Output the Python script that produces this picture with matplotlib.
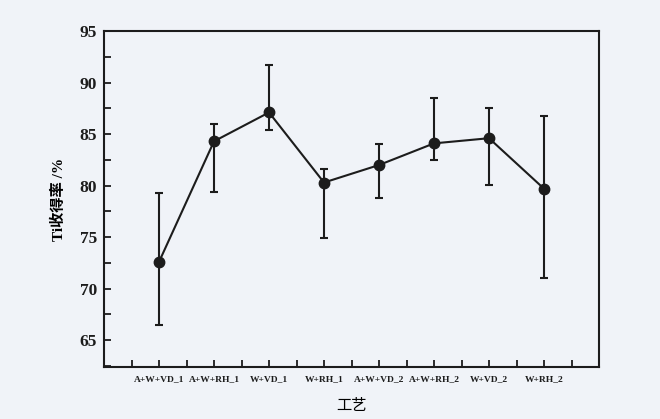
import matplotlib.pyplot as plt
from matplotlib.ticker import MultipleLocator

processes = ['A+W+VD_1', 'A+W+RH_1', 'W+VD_1', 'W+RH_1',
             'A+W+VD_2', 'A+W+RH_2', 'W+VD_2', 'W+RH_2']
ti_yield = [72.6, 84.3, 87.1, 80.3, 82.0, 84.1, 84.6, 79.7]
err_upper = [79.3, 86.0, 91.7, 81.6, 84.0, 88.5, 87.5, 86.8]
err_lower = [66.5, 79.4, 85.4, 74.9, 78.8, 82.5, 80.1, 71.0]

bg = '#f0f3f8'
ink = '#1c1c1c'
fonts = ['Liberation Serif', 'Noto Sans CJK SC']

fig = plt.figure(figsize=(6.6, 4.19), dpi=100, facecolor=bg)
ax = fig.add_axes([0.1576, 0.124, 0.75, 0.802])
ax.set_facecolor(bg)

x = list(range(1, len(processes) + 1))
yerr = [[v - lo for v, lo in zip(ti_yield, err_lower)],
        [hi - v for v, hi in zip(ti_yield, err_upper)]]
ax.errorbar(x, ti_yield, yerr=yerr, color=ink, linewidth=1.5, marker='o',
            markersize=7.5, elinewidth=1.5, capsize=2.6, capthick=1.5)

ax.set_xlim(0, 9)
ax.set_ylim(62.4, 95)
ax.set_xticks(x)
ax.set_xticklabels(processes, fontsize=6.8, fontweight='bold', family=fonts)
ax.xaxis.set_minor_locator(MultipleLocator(0.5))
ax.yaxis.set_major_locator(MultipleLocator(5))
ax.yaxis.set_minor_locator(MultipleLocator(2.5))
for lab in ax.get_yticklabels():
    lab.set_fontsize(12.5)
    lab.set_fontweight('bold')
    lab.set_family(fonts)
ax.tick_params(which='both', direction='in', length=5, width=1.3, colors=ink,
               top=False, right=False)
ax.tick_params(axis='y', pad=5)
ax.tick_params(axis='x', pad=6)
for s in ax.spines.values():
    s.set_linewidth(1.5)
    s.set_color(ink)

ax.set_ylabel('Ti收得率 /%', fontsize=11, fontweight='bold', family=fonts, labelpad=10)
ax.set_xlabel('工艺', fontsize=11, family=fonts, labelpad=11)

fig.savefig('out.png', dpi=100, facecolor=bg)
